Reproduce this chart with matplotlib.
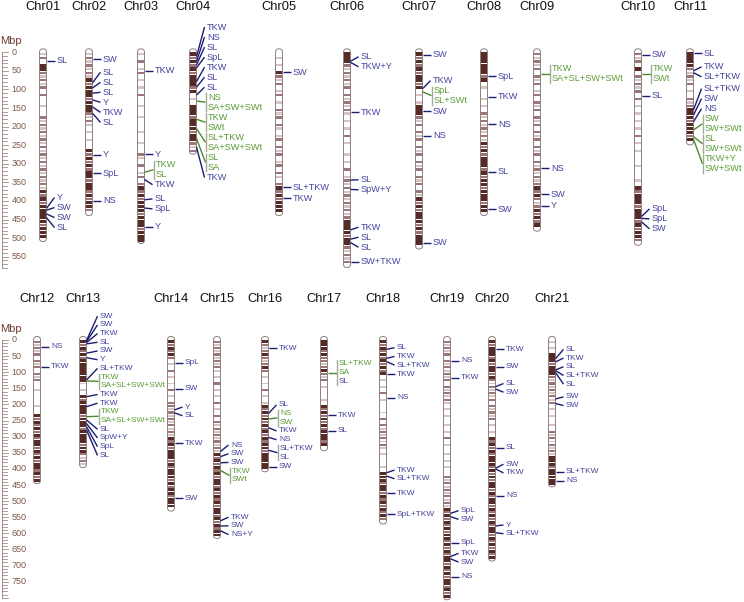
import matplotlib
matplotlib.use('Agg')
import matplotlib.pyplot as plt
from matplotlib.patches import FancyBboxPatch

plt.rcParams['font.family'] = ['Liberation Sans', 'DejaVu Sans']

# ---------------- data ----------------
top_chroms = ['Chr01', 'Chr02', 'Chr03', 'Chr04', 'Chr05', 'Chr06', 'Chr07', 'Chr08', 'Chr09', 'Chr10', 'Chr11']
top_lengths = [500, 430, 505, 265, 430, 570, 520, 430, 472, 510, 240]
top_bands = [
    "12033212120200100212121212121212121213232333332333",
    "1212121323332333212101010032323233233232332",
    "102012010102001001000100100210201202323233323332333",
    "323232333230103332333233212",
    "0101032120120102120210120212012021023232333",
    "333212121202121210101020100101020121212121212333323321212",
    "3232323323010133321202120212021202120213232333232333",
    "3333332301001010212121213232333232332333233",
    "21212021201202120212021202120212121232321232323",
    "212030212120201010101020101000100010323332333232332",
    "333321212010212333233323",
]
bot_chroms = ['Chr12', 'Chr13', 'Chr14', 'Chr15', 'Chr16', 'Chr17', 'Chr18', 'Chr19', 'Chr20', 'Chr21']
bot_lengths = [435, 385, 520, 605, 398, 333, 560, 795, 675, 445]
bot_bands = [
    "21212021202120010000100323232323323232332323",
    "323232333333310103233332333233332332121",
    "3232320102010102010221212121213232333232333232332333",
    "2121212121010201010201020212121212132323232332323232332323233",
    "3212321232010102010132323232323233233333",
    "333232212321201000103232323233323",
    "32323232323010102010001020212121210100010333233232323232",
    "21212021212120212121010100101020100101010021212121213232323233232323323232332323",
    "32333232332321212120212120101032323233323232332323323232323323232323",
    "101033323332121212120101001021212121333233333",
]

# QTL: (chromosome, position Mbp, labels separated by '|', colour per label g=green b=blue)
top_qtl = [
    ('Chr01', 23, 'SL', 'b'), ('Chr01', 420, 'Y', 'b'), ('Chr01', 425, 'SW', 'b'),
    ('Chr01', 435, 'SW', 'b'), ('Chr01', 445, 'SL', 'b'),
    ('Chr02', 19, 'SW', 'b'), ('Chr02', 82, 'SL', 'b'), ('Chr02', 96, 'SL', 'b'),
    ('Chr02', 110, 'SL', 'b'), ('Chr02', 128, 'Y', 'b'), ('Chr02', 147, 'TKW', 'b'),
    ('Chr02', 164, 'SL', 'b'), ('Chr02', 276, 'Y', 'b'), ('Chr02', 326, 'SpL', 'b'),
    ('Chr02', 400, 'NS', 'b'),
    ('Chr03', 50, 'TKW', 'b'), ('Chr03', 275, 'Y', 'b'), ('Chr03', 323, 'TKW|SL', 'gg'),
    ('Chr03', 342, 'TKW', 'b'), ('Chr03', 397, 'SL', 'b'), ('Chr03', 419, 'SpL', 'b'),
    ('Chr03', 469, 'Y', 'b'),
    ('Chr04', 12, 'TKW', 'b'), ('Chr04', 25, 'NS', 'b'), ('Chr04', 34, 'SL', 'b'),
    ('Chr04', 42, 'SpL', 'b'), ('Chr04', 79, 'TKW', 'b'), ('Chr04', 94, 'SL', 'b'),
    ('Chr04', 115, 'SL', 'b'), ('Chr04', 131, 'NS|SA+SW+SWt', 'gg'),
    ('Chr04', 180, 'TKW|SWt', 'gg'), ('Chr04', 205, 'SL+TKW|SA+SW+SWt', 'gg'),
    ('Chr04', 232, 'SL|SA', 'gg'), ('Chr04', 255, 'TKW', 'b'),
    ('Chr05', 54, 'SW', 'b'), ('Chr05', 363, 'SL+TKW', 'b'), ('Chr05', 393, 'TKW', 'b'),
    ('Chr06', 24, 'SL', 'b'), ('Chr06', 27, 'TKW+Y', 'b'), ('Chr06', 162, 'TKW', 'b'),
    ('Chr06', 344, 'SL', 'b'), ('Chr06', 369, 'SpW+Y', 'b'), ('Chr06', 478, 'TKW', 'b'),
    ('Chr06', 503, 'SL', 'b'), ('Chr06', 512, 'SL', 'b'), ('Chr06', 563, 'SW+TKW', 'b'),
    ('Chr07', 7, 'SW', 'b'), ('Chr07', 98, 'TKW', 'b'), ('Chr07', 106, 'SpL|SL+SWt', 'gg'),
    ('Chr07', 158, 'SW', 'b'), ('Chr07', 224, 'NS', 'b'), ('Chr07', 512, 'SW', 'b'),
    ('Chr08', 64, 'SpL', 'b'), ('Chr08', 119, 'TKW', 'b'), ('Chr08', 193, 'NS', 'b'),
    ('Chr08', 321, 'SL', 'b'), ('Chr08', 423, 'SW', 'b'),
    ('Chr09', 58, 'TKW|SA+SL+SW+SWt', 'gg'), ('Chr09', 312, 'NS', 'b'),
    ('Chr09', 382, 'SW', 'b'), ('Chr09', 413, 'Y', 'b'),
    ('Chr10', 7, 'SW', 'b'), ('Chr10', 58, 'TKW|SWt', 'gg'), ('Chr10', 117, 'SL', 'b'),
    ('Chr10', 442, 'SpL', 'b'), ('Chr10', 447, 'SpL', 'b'), ('Chr10', 456, 'SW', 'b'),
    ('Chr11', 3, 'SL', 'b'), ('Chr11', 50, 'TKW', 'b'), ('Chr11', 55, 'SL+TKW', 'b'),
    ('Chr11', 155, 'SL+TKW', 'b'), ('Chr11', 169, 'SW', 'b'), ('Chr11', 187, 'NS', 'b'),
    ('Chr11', 209, 'SW|SW+SWt', 'gg'), ('Chr11', 227, 'SL|SW+SWt', 'gg'),
    ('Chr11', 234, 'TKW+Y|SW+SWt', 'gg'),
]
bot_qtl = [
    ('Chr12', 21, 'NS', 'b'), ('Chr12', 83, 'TKW', 'b'),
    ('Chr13', 2, 'SW', 'b'), ('Chr13', 5, 'SW', 'b'), ('Chr13', 8, 'TKW', 'b'),
    ('Chr13', 12, 'SL', 'b'), ('Chr13', 41, 'SW', 'b'), ('Chr13', 55, 'Y', 'b'),
    ('Chr13', 124, 'SL+TKW', 'b'), ('Chr13', 127, 'TKW|SA+SL+SW+SWt', 'gg'),
    ('Chr13', 176, 'TKW', 'b'), ('Chr13', 207, 'TKW', 'b'),
    ('Chr13', 238, 'TKW|SA+SL+SW+SWt', 'gg'), ('Chr13', 248, 'SL', 'b'),
    ('Chr13', 259, 'SpW+Y', 'b'), ('Chr13', 269, 'SpL', 'b'), ('Chr13', 279, 'SL', 'b'),
    ('Chr14', 70, 'SpL', 'b'), ('Chr14', 152, 'SW', 'b'), ('Chr14', 217, 'Y', 'b'),
    ('Chr14', 226, 'SL', 'b'), ('Chr14', 321, 'TKW', 'b'), ('Chr14', 491, 'SW', 'b'),
    ('Chr15', 346, 'NS', 'b'), ('Chr15', 362, 'SW', 'b'), ('Chr15', 381, 'SW', 'b'),
    ('Chr15', 405, 'TKW|SWt', 'gg'), ('Chr15', 561, 'TKW', 'b'), ('Chr15', 577, 'SW', 'b'),
    ('Chr15', 592, 'NS+Y', 'b'),
    ('Chr16', 26, 'TKW', 'b'), ('Chr16', 228, 'SL', 'b'), ('Chr16', 245, 'NS|SW', 'gg'),
    ('Chr16', 272, 'TKW', 'b'), ('Chr16', 302, 'NS', 'b'), ('Chr16', 342, 'SL+TKW|SL', 'bb'),
    ('Chr16', 393, 'SW', 'b'),
    ('Chr17', 101, 'SL+TKW|SA|SL', 'ggb'), ('Chr17', 233, 'TKW', 'b'), ('Chr17', 281, 'SL', 'b'),
    ('Chr18', 29, 'SL', 'b'), ('Chr18', 57, 'TKW', 'b'), ('Chr18', 67, 'SL+TKW', 'b'),
    ('Chr18', 106, 'TKW', 'b'), ('Chr18', 179, 'NS', 'b'), ('Chr18', 412, 'TKW', 'b'),
    ('Chr18', 422, 'SL+TKW', 'b'), ('Chr18', 476, 'TKW', 'b'), ('Chr18', 541, 'SpL+TKW', 'b'),
    ('Chr19', 65, 'NS', 'b'), ('Chr19', 117, 'TKW', 'b'), ('Chr19', 538, 'SpL', 'b'),
    ('Chr19', 548, 'SW', 'b'), ('Chr19', 629, 'SpL', 'b'), ('Chr19', 672, 'TKW', 'b'),
    ('Chr19', 679, 'SW', 'b'), ('Chr19', 734, 'NS', 'b'),
    ('Chr20', 29, 'TKW', 'b'), ('Chr20', 83, 'SW', 'b'), ('Chr20', 145, 'SL', 'b'),
    ('Chr20', 152, 'SW', 'b'), ('Chr20', 334, 'SL', 'b'), ('Chr20', 398, 'SW', 'b'),
    ('Chr20', 400, 'TKW', 'b'), ('Chr20', 484, 'NS', 'b'), ('Chr20', 577, 'Y', 'b'),
    ('Chr20', 598, 'SL+TKW', 'b'),
    ('Chr21', 58, 'SL', 'b'), ('Chr21', 68, 'TKW', 'b'), ('Chr21', 93, 'SL', 'b'),
    ('Chr21', 95, 'SL+TKW', 'b'), ('Chr21', 101, 'SL', 'b'), ('Chr21', 183, 'SW', 'b'),
    ('Chr21', 197, 'SW', 'b'), ('Chr21', 409, 'SL+TKW', 'b'), ('Chr21', 437, 'NS', 'b'),
]
top_ticks = list(range(0, 551, 50))
bot_ticks = list(range(0, 751, 50))

# ---------------- layout / style ----------------
W, H = 744, 602
top_x = [43, 89, 141, 193, 279, 347, 419, 484, 537, 638, 690]
bot_x = [37, 83, 171, 217, 265, 324, 383, 447, 492, 552]
CW = 7.0
SHADE = {'1': '#d6c4c4', '2': '#9c7676', '3': '#562a25'}
STRIPE = {'1': 6.0, '2': 6.5, '3': 9.0}
BLUE_T, BLUE_L = '#44449e', '#1c1c72'
GREEN_T, GREEN_L = '#5a9c36', '#4a8a2c'
BRACKET = '#a4aa98'
BROWN = '#6e3c2c'

fig = plt.figure(figsize=(W / 100, H / 100), dpi=100)


def place(anchors, sizes, sp):
    order = sorted(range(len(anchors)), key=lambda i: anchors[i])
    clusters = [[i] for i in order]

    def cen(c):
        return sum(anchors[i] * sizes[i] for i in c) / sum(sizes[i] for i in c)

    def hgt(c):
        return sum(sizes[i] for i in c) * sp

    changed = True
    while changed:
        changed = False
        for k in range(len(clusters) - 1):
            a, b = clusters[k], clusters[k + 1]
            if cen(a) + hgt(a) / 2 > cen(b) - hgt(b) / 2:
                clusters[k] = a + b
                del clusters[k + 1]
                changed = True
                break
    pos = {}
    for c in clusters:
        top = cen(c) - hgt(c) / 2
        cum = 0
        for i in c:
            pos[i] = top + (cum + sizes[i] / 2) * sp
            cum += sizes[i]
    return [pos[i] for i in range(len(anchors))]


def panel(rect_px, y0, scale, chroms, lengths, bands, xs, qtls, ticks, ruler_max, fs, title_px, mbp_px, txt_dx):
    top_px, bot_px = rect_px
    ax = fig.add_axes([0, 1 - bot_px / H, 1, (bot_px - top_px) / H])
    ax.set_xlim(0, W)
    ax.set_ylim((bot_px - y0) / scale, (top_px - y0) / scale)
    ax.axis('off')
    mpp = 1.0 / scale  # Mbp per pixel
    sp = 27.0

    # titles
    ty = (title_px - y0) * mpp
    for name, cx in zip(chroms, xs):
        ax.text(cx, ty, name, ha='center', va='center', fontsize=9.3, color='#111111')

    # ruler
    my = (mbp_px - y0) * mpp
    ax.text(0, my, 'Mbp', ha='left', va='center', fontsize=8, color=BROWN)
    ax.plot([1.5, 1.5], [0, ruler_max], color='#a08c86', lw=0.7)
    for v in range(0, ruler_max + 1, 10):
        ax.plot([1.5, 7.5 if v % 50 == 0 else 6.5], [v, v], color='#a08c86', lw=0.6)
    for t in ticks:
        ax.text(11.5, t, str(t), ha='left', va='center', fontsize=6.5, color='#80584a')

    r = CW / 2 * mpp
    for name, L, bs, cx in zip(chroms, lengths, bands, xs):
        body = FancyBboxPatch((cx - CW / 2, -r), CW, L + 2 * r,
                              boxstyle='round,pad=0,rounding_size=%.2f' % (CW / 2),
                              mutation_aspect=mpp, facecolor='white', edgecolor='none', zorder=1)
        ax.add_patch(body)
        for i, ch in enumerate(bs):
            if ch in SHADE:
                h = STRIPE[ch]
                b = ax.bar(cx, h, bottom=i * 10 + (10 - h) / 2, width=CW, color=SHADE[ch],
                           linewidth=0, zorder=2)
                for p in b:
                    p.set_clip_path(body)
        outline = FancyBboxPatch((cx - CW / 2, -r), CW, L + 2 * r,
                                 boxstyle='round,pad=0,rounding_size=%.2f' % (CW / 2),
                                 mutation_aspect=mpp, facecolor='none', edgecolor='#8c8080',
                                 lw=0.7, zorder=3)
        ax.add_patch(outline)

    # QTL labels per chromosome
    for name, cx in zip(chroms, xs):
        items = [q for q in qtls if q[0] == name]
        if not items:
            continue
        anchors = [q[1] for q in items]
        sizes = [len(q[2].split('|')) for q in items]
        ys = place(anchors, sizes, sp)
        edge = cx + CW / 2
        dx = txt_dx.get(name, 0)
        for q, ly, n in zip(items, ys, sizes):
            labels = q[2].split('|')
            kinds = q[3]
            lc = GREEN_L if kinds[0] == 'g' else BLUE_L
            if n == 1:
                ax.plot([edge, edge + 8 + dx], [q[1], ly], color=lc, lw=1.0, zorder=4,
                        solid_capstyle='butt')
                ax.text(edge + 10.5 + dx, ly, labels[0], ha='left', va='center', fontsize=fs,
                        color=GREEN_T if kinds[0] == 'g' else BLUE_T)
            else:
                ax.plot([edge, edge + 9 + dx], [q[1], ly], color=lc, lw=1.0, zorder=4,
                        solid_capstyle='butt')
                top = ly - n * sp / 2
                ax.plot([edge + 9.5 + dx, edge + 9.5 + dx], [top + 3, top + n * sp - 3],
                        color=BRACKET, lw=1.0, zorder=4)
                for j, (lab, k) in enumerate(zip(labels, kinds)):
                    yy = top + (j + 0.5) * sp
                    ax.text(edge + 11.5 + dx, yy, lab, ha='left', va='center', fontsize=fs,
                            color=GREEN_T if k == 'g' else BLUE_T)
    return ax


panel((0, 290), 52.3, 0.3716, top_chroms, top_lengths, top_bands, top_x, top_qtl,
      top_ticks, 580, 6.6, 7, 41, {})
panel((290, 602), 340.0, 0.3223, bot_chroms, bot_lengths, bot_bands, bot_x, bot_qtl,
      bot_ticks, 800, 6.0, 299, 329, {'Chr13': 3})

fig.savefig('out.png', dpi=100, facecolor='white')
